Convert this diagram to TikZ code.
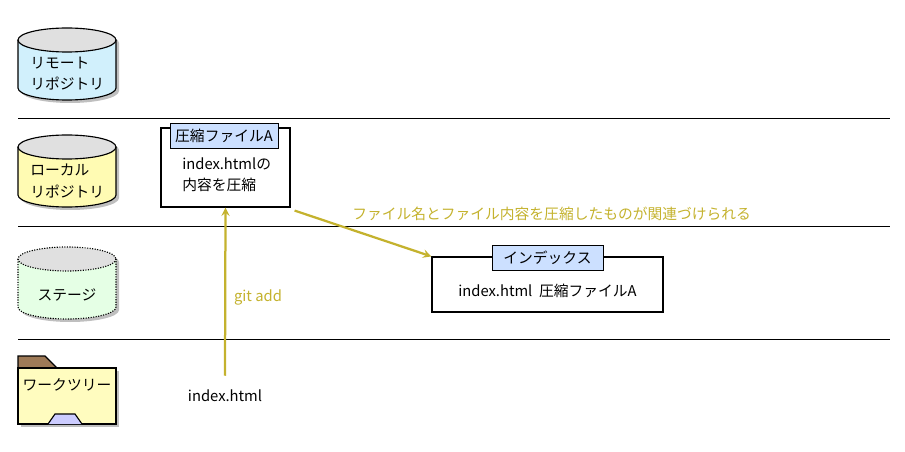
\documentclass[tikz,border=0pt]{standalone}
\usepackage{fontspec}
\setmainfont{Noto Sans CJK JP}
\definecolor{gitgold}{HTML}{C4B22E}
\definecolor{tagblue}{HTML}{CCE0FF}
\tikzstyle{arrow} = [->,>=stealth,gitgold,line width=1.6pt]
\tikzstyle{lane} = [line width=0.6pt]
\tikzstyle{tag} = [draw,fill=tagblue,inner sep=2pt,minimum height=0.62cm,font=\fontsize{10.5}{12}\selectfont]
\tikzstyle{txt} = [font=\fontsize{10.5}{15}\selectfont,inner sep=0pt]
\newcommand{\repo}[3]{% top, fill, style
  \fill[black!25] (21,#1+15) -- (21,#1+63) arc (180:0:49 and 12) -- (119,#1+15) arc (360:180:49 and 12);
  \fill[#2] (18,#1+12) -- (18,#1+60) arc (180:0:49 and 12) -- (116,#1+12) arc (360:180:49 and 12);
  \fill[black!12] (67,#1+12) ellipse (49 and 12);
  \draw[#3] (18,#1+12) -- (18,#1+60) arc (180:0:49 and 12) -- (116,#1+12);
  \draw[#3] (67,#1+12) ellipse (49 and 12);
}
\begin{document}
\begin{tikzpicture}[x=0.025cm,y=-0.025cm]
        \useasboundingbox (0,0) rectangle (905,452);
        \repo{28}{cyan!18}{thick}
        \repo{135}{yellow!30}{thick}
        \repo{247}{green!10}{thick,densely dotted}
        \node[txt,align=left,anchor=west] (remote) at (30,74) {リモート\\リポジトリ};
        \node[txt,align=left,anchor=west] (local) at (30,181) {ローカル\\リポジトリ};
        \node[txt] (stage) at (67,295) {ステージ};

        \draw[lane] (18,118) -- (890,118);
        \draw[lane] (18,226) -- (890,226);
        \draw[lane] (18,339) -- (890,339);

        % folder
        \fill[black!25] (21,371) rectangle (119,427);
        \draw[thick,fill=brown!70!black!80] (18,368) -- (18,356) -- (45,356) -- (57,368) -- cycle;
        \draw[thick,fill=yellow!25] (18,368) rectangle (116,424);
        \draw[thick,fill=blue!20] (48,424) -- (55,414) -- (75,414) -- (82,424);
        \node[txt] (tree) at (67,385) {ワークツリー};

        % compressed file
        \node[draw,thick,fill=white,minimum width=3.225cm,minimum height=1.975cm] (blob) at (225.5,167.5) {};
        \node[tag,minimum width=2.7cm] (blobtag) at (224,135.5) {圧縮ファイルA};
        \node[txt,align=left,anchor=north west] (blobtxt) at (182,157) {index.htmlの\\内容を圧縮};

        % index
        \node[draw,thick,fill=white,minimum width=5.775cm,minimum height=1.375cm] (index) at (547.5,284.5) {};
        \node[tag,minimum width=2.775cm] (indextag) at (547.5,257.5) {インデックス};
        \node[txt] (entry) at (547.5,291) {index.html\ \ 圧縮ファイルA};

        \node[txt] (file) at (225,396) {index.html};
        \draw[arrow] (file.north) ++(0,-14) coordinate (src) -- (blob.south);
        \node[txt,text=gitgold] (add) at (258,297) {git add};
        \draw[arrow] (blob.south east) ++(4,3) -- (index.north west);
        \node[txt,text=gitgold,anchor=west] (link) at (352,214) {ファイル名とファイル内容を圧縮したものが関連づけられる};
\end{tikzpicture}
\end{document}
